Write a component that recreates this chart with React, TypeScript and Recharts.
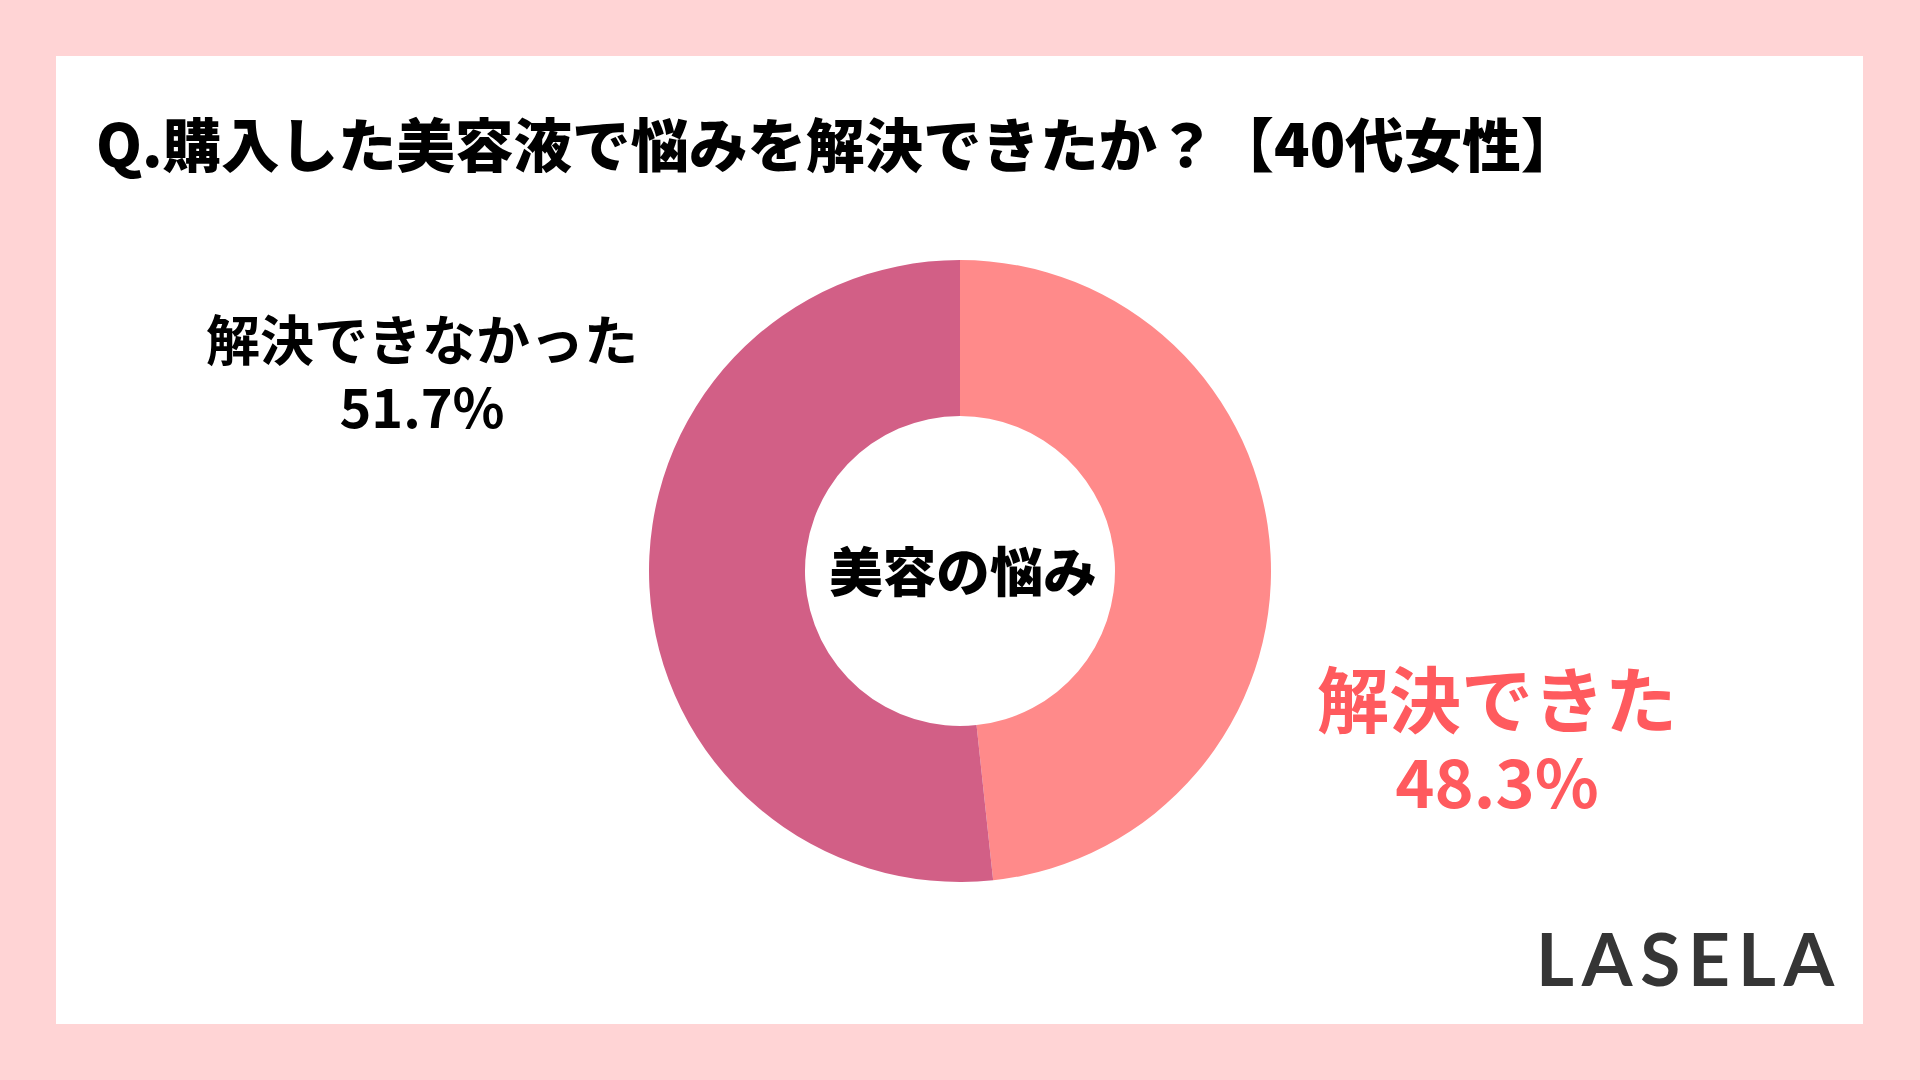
import React from 'react'
import { PieChart, Pie, Cell, Label } from 'recharts'

const categories = ['解決できた', '解決できなかった']
const shares = [48.3, 51.7]
const sliceColors = ['#FF8A8A', '#D25F86']

const title = 'Q.購入した美容液で悩みを解決できたか？【40代女性】'
const centerText = '美容の悩み'
const brand = 'LASELA'

const data = categories.map((name, i) => ({ name, value: shares[i] }))

const JP = '"Noto Sans CJK JP", "Noto Sans", sans-serif'
const PIE_CX = 960
const PIE_CY = 571

// text in the hole of the donut
const CenterLabel = () => (
    <text
        x={PIE_CX + 3}
        y={PIE_CY - 3}
        textAnchor="middle"
        dominantBaseline="central"
        fill="#000"
        fontSize={53.5}
        fontWeight={900}
        fontFamily={JP}
    >
        {centerText}
    </text>
)

export default function App() {
    const lineBase: React.CSSProperties = {
        position: 'absolute',
        width: 500,
        textAlign: 'center',
        fontFamily: JP,
        fontWeight: 700,
        whiteSpace: 'nowrap',
        lineHeight: 1,
    }
    return (
        <div
            style={{
                position: 'absolute',
                left: 0,
                top: 0,
                width: 1920,
                height: 1080,
                background: '#FFD4D5',
                overflow: 'hidden',
            }}
        >
            <div
                style={{
                    position: 'absolute',
                    left: 56,
                    top: 56,
                    width: 1807,
                    height: 968,
                    background: '#ffffff',
                }}
            />
            <div
                style={{
                    position: 'absolute',
                    left: 96,
                    top: 110,
                    fontFamily: JP,
                    fontWeight: 900,
                    fontSize: 58.5,
                    lineHeight: '64px',
                    color: '#000',
                    whiteSpace: 'nowrap',
                }}
            >
                {title}
            </div>

            <div style={{ position: 'absolute', left: 0, top: 0 }}>
                <PieChart width={1920} height={1080} margin={{ top: 0, right: 0, bottom: 0, left: 0 }}>
                    <Pie
                        data={data}
                        dataKey="value"
                        nameKey="name"
                        cx={PIE_CX}
                        cy={PIE_CY}
                        innerRadius={155}
                        outerRadius={311}
                        startAngle={90}
                        endAngle={-270}
                        stroke="none"
                        isAnimationActive={false}
                    >
                        {data.map((d, i) => (
                            <Cell key={d.name} fill={sliceColors[i]} />
                        ))}
                        <Label position="center" content={CenterLabel} />
                    </Pie>
                </PieChart>
            </div>

            {/* left label: 解決できなかった */}
            <div style={{ ...lineBase, left: 172, top: 311, fontSize: 54, color: '#000' }}>
                {categories[1]}
            </div>
            <div style={{ ...lineBase, left: 172, top: 378, fontSize: 54, color: '#000' }}>
                {shares[1].toFixed(1)}%
            </div>

            {/* right label: 解決できた */}
            <div style={{ ...lineBase, left: 1247, top: 660, fontSize: 72, color: '#FF5A5E' }}>
                {categories[0]}
            </div>
            <div style={{ ...lineBase, left: 1247, top: 746, fontSize: 66.5, color: '#FF5A5E' }}>
                {shares[0].toFixed(1)}%
            </div>

            <div
                style={{
                    position: 'absolute',
                    left: 1536,
                    top: 918,
                    fontFamily: 'Lato, sans-serif',
                    fontWeight: 700,
                    fontSize: 73,
                    lineHeight: '80px',
                    letterSpacing: '0.107em',
                    color: '#353535',
                    whiteSpace: 'nowrap',
                }}
            >
                {brand}
            </div>
        </div>
    )
}
